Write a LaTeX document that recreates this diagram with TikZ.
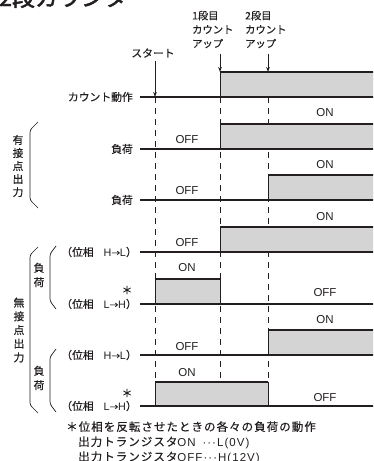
\documentclass[tikz,border=0pt]{standalone}
\usepackage{fontspec}
\setmainfont{Liberation Sans}
\newfontfamily\jp[FakeBold=0.5]{Noto Sans CJK JP}
\newfontfamily\jpbold[FakeBold=2]{Noto Sans CJK JP}
\newfontfamily\jpnote[LetterSpace=9,FakeBold=0.5]{Noto Sans CJK JP}
\newfontfamily\lsnote[LetterSpace=9]{Liberation Sans}
\newfontfamily\ls{Liberation Sans}
\usetikzlibrary{arrows.meta}
\definecolor{fillgray}{RGB}{212,212,212}
\definecolor{ink}{RGB}{35,31,32}
\begin{document}
\begin{tikzpicture}[x=1pt,y=-1pt,
  baseln/.style={line width=1.3pt, draw=ink},
  topln/.style={line width=2.6pt, draw=ink},
  edgeln/.style={line width=0.9pt, draw=ink},
  vdash/.style={line width=0.9pt, draw=ink, dash pattern=on 6pt off 5pt},
  sig/.style={fill=fillgray, draw=none},
  brk/.style={line width=0.7pt, draw=ink, rounded corners=2.5pt},
  arr/.style={line width=0.9pt, draw=ink, -{Stealth[length=5pt,width=3.6pt]}},
  lbl/.style={font=\jp\fontsize{10.8}{12}\selectfont, text=ink, inner sep=0pt},
  toplbl/.style={font=\jp\fontsize{10.3}{14}\selectfont, text=ink, inner sep=0pt, align=left, anchor=west},
  vlbl/.style={text=ink, inner sep=0pt, align=center},
  st/.style={font=\fontsize{11.5}{13}\selectfont, text=ink, inner sep=0pt},
  note/.style={font=\fontsize{11.5}{13}\selectfont, text=ink, inner sep=0pt, anchor=base west}]
\useasboundingbox (0,0) rectangle (373,461);
\clip (0,0) rectangle (373,461);

% title (cut off at the top)
\node[anchor=base west, inner sep=0pt, text=ink, font=\jpbold\fontsize{23}{23}\selectfont] (title) at (-1,6) {2段カウンタ};

% event coordinates
\coordinate (xs) at (155,97);
\coordinate (x1) at (220,72);
\coordinate (x2) at (268,72);

% dashed time markers
\coordinate (ds0) at (155,97);  \coordinate (ds1) at (155,406);
\coordinate (d10) at (220,97);  \coordinate (d11) at (220,406);
\coordinate (d20) at (268,97);  \coordinate (d21) at (268,406);
\draw[vdash] (ds0) -- (ds1);
\draw[vdash] (d10) -- (d11);
\draw[vdash] (d20) -- (d21);

% fills
\fill[sig] (220,72) rectangle (380,97);
\fill[sig] (220,124) rectangle (380,149);
\fill[sig] (268,175) rectangle (380,200);
\fill[sig] (220,227) rectangle (380,252);
\fill[sig] (155,279) rectangle (220,304);
\fill[sig] (268,330) rectangle (380,355);
\fill[sig] (155,382) rectangle (268,406);

% baselines
\foreach \b in {97,149,200,252,304,355,406}
  \draw[baseln] (140,\b) -- (380,\b);

% rising edges / tops
\draw[edgeln] (220,97) -- (220,72);  \draw[topln] (220,72) -- (380,72);
\draw[edgeln] (220,149) -- (220,124); \draw[topln] (220,124) -- (380,124);
\draw[edgeln] (268,200) -- (268,175); \draw[topln] (268,175) -- (380,175);
\draw[edgeln] (220,252) -- (220,227); \draw[topln] (220,227) -- (380,227);
\draw[edgeln] (155,304) -- (155,279) (220,279) -- (220,304); \draw[topln] (155,279) -- (220,279);
\draw[edgeln] (268,355) -- (268,330); \draw[topln] (268,330) -- (380,330);
\draw[edgeln] (155,406) -- (155,382) (268,382) -- (268,406); \draw[topln] (155,382) -- (268,382);

% event labels and arrows
\node[lbl] (start) at (153,53) {スタート};
\draw[arr] ([yshift=-3pt]start.south -| xs) -- (xs);
\node[toplbl] (cu1) at (192,29.5) {1段目\\カウント\\アップ};
\node[toplbl] (cu2) at (245,29.5) {2段目\\カウント\\アップ};
\draw[arr] (220,54) -- (x1);
\draw[arr] (268,54) -- (x2);

% row labels
\node[lbl, anchor=east] (cnt) at (133,97) {カウント動作};
\node[lbl, anchor=east] (ld1) at (133,149) {負荷};
\node[lbl, anchor=east] (ld2) at (133,200) {負荷};
\node[lbl, anchor=east] (p1) at (137,252) {（位相\hspace{10pt}{\ls H}{\fontsize{8.5}{7}\selectfont →}{\ls L}）};
\node[lbl, anchor=east] (p2) at (137,304) {（位相\hspace{10pt}{\ls L}{\fontsize{8.5}{7}\selectfont →}{\ls H}）};
\node[lbl, anchor=east] (p3) at (137,355) {（位相\hspace{10pt}{\ls H}{\fontsize{8.5}{7}\selectfont →}{\ls L}）};
\node[lbl, anchor=east] (p4) at (137,406) {（位相\hspace{10pt}{\ls L}{\fontsize{8.5}{7}\selectfont →}{\ls H}）};
\node[lbl] (ast1) at (127,290) {＊};
\node[lbl] (ast2) at (127,393) {＊};

% group labels and brackets
\node[vlbl, font=\jp\fontsize{10.8}{13}\selectfont] (yu) at (18,166) {有\\接\\点\\出\\力};
\draw[brk] (38,122) -- (30,130) -- (30,200) -- (38,208);
\node[vlbl, font=\jp\fontsize{10.8}{13.7}\selectfont] (mu) at (19,330) {無\\接\\点\\出\\力};
\draw[brk] (38,247) -- (30,255) -- (30,405) -- (38,413);
\node[vlbl, font=\jp\fontsize{10.8}{14.5}\selectfont] (f1) at (39,275) {負\\荷};
\draw[brk] (56,246) -- (50,254) -- (50,301) -- (56,309);
\node[vlbl, font=\jp\fontsize{10.8}{14.5}\selectfont] (f2) at (39,378) {負\\荷};
\draw[brk] (56,349) -- (50,357) -- (50,404) -- (56,412);

% state texts
\node[st] (s1) at (325,113) {ON};
\node[st] (s2) at (187,140) {OFF};
\node[st] (s3) at (325,165) {ON};
\node[st] (s4) at (187,191) {OFF};
\node[st] (s5) at (325,217) {ON};
\node[st] (s6) at (187,243) {OFF};
\node[st] (s7) at (187,268) {ON};
\node[st] (s8) at (325,293) {OFF};
\node[st] (s9) at (325,320) {ON};
\node[st] (s10) at (187,347) {OFF};
\node[st] (s11) at (187,373) {ON};
\node[st] (s12) at (325,398) {OFF};

% notes
\node[note] (n1) at (66,431) {\jpnote ＊位相を反転させたときの各々の負荷の動作};
\node[note] (n2) at (78,446) {\jpnote 出力トランジスタ\lsnote\rlap{ON}\phantom{OFF}···L(0V)};
\node[note] (n3) at (78,461) {\jpnote 出力トランジスタ\lsnote OFF···H(12V)};
\end{tikzpicture}
\end{document}
